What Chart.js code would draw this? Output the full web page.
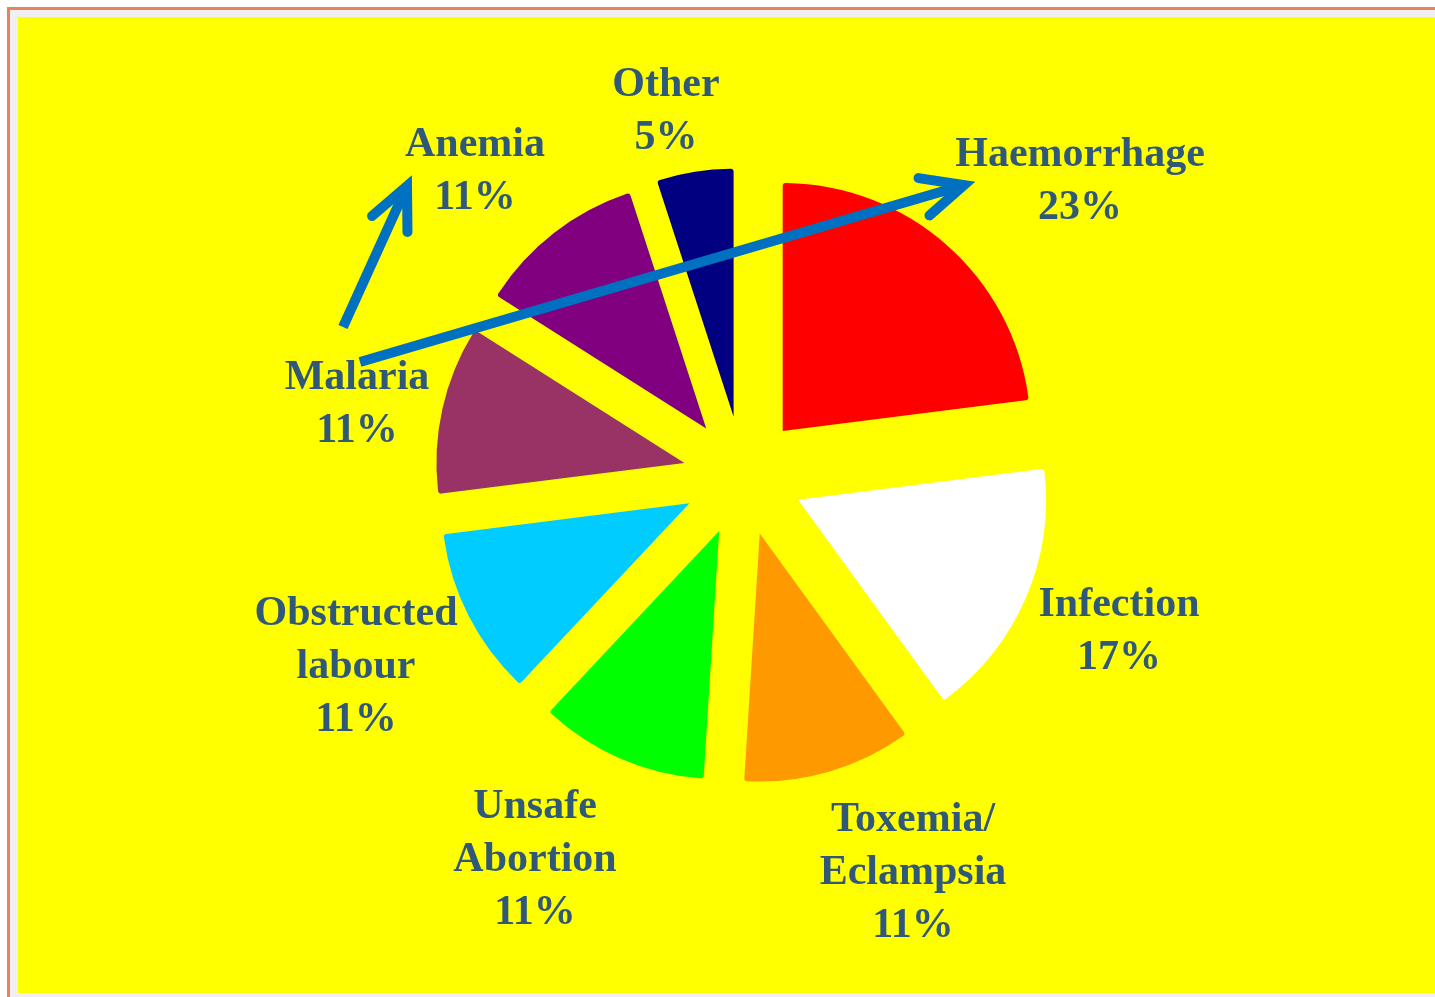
<!DOCTYPE html>
<html><head><meta charset="utf-8">
<script src="https://cdn.jsdelivr.net/npm/chart.js@4.4.1/dist/chart.umd.min.js"></script>
<style>
html,body{margin:0;padding:0;background:#fff;width:1435px;height:997px;overflow:hidden;}
#frame{position:absolute;left:7px;top:7px;width:1500px;height:1100px;border-left:3px solid #e8835a;border-top:3px solid #e8835a;background:#f0f0f0;}
#plot{position:absolute;left:18px;top:17px;width:1500px;height:976px;background:#ffff00;}
#c{position:absolute;left:0;top:0;}
</style></head><body>
<div id="frame"></div><div id="plot"></div>
<canvas id="c" width="1435" height="997"></canvas>
<script>
// ---- data ----
const categories = ["Haemorrhage", "Infection", "Toxemia/\nEclampsia", "Unsafe\nAbortion", "Obstructed\nlabour", "Malaria", "Anemia", "Other"];
const values = [23, 17, 11, 11, 11, 11, 11, 5];
const colors = ["#FF0000", "#FFFFFF", "#FF9900", "#00FF00", "#00CCFF", "#993366", "#800080", "#000080"];

// ---- layout (label anchor: x centre, first baseline) ----
const labelAnchors = [[1080, 166], [1119, 616], [913, 831], [535, 818], [356, 625], [357, 389], [475, 156], [666, 96]];
const EXPLODE = 60;
const LINE_H = 53;
const LABEL_FONT = "bold 42px 'Liberation Serif', 'Times New Roman', serif";
const LABEL_COLOR = "#305878";
const ARROW_COLOR = "#0070C0";
const arrows = [[343, 327, 407, 186], [360, 362, 964, 185]];

const explodePlugin = {
  id: 'explode',
  beforeDatasetDraw(chart, args) {
    const meta = chart.getDatasetMeta(args.index);
    const ca = chart.chartArea;
    const cx = (ca.left + ca.right) / 2 - 1, cy = (ca.top + ca.bottom) / 2;
    meta.data.forEach(arc => {
      const mid = (arc.startAngle + arc.endAngle) / 2;
      arc.x = cx + Math.cos(mid) * EXPLODE;
      arc.y = cy + Math.sin(mid) * EXPLODE;
    });
  }
};

function drawArrow(ctx, x1, y1, x2, y2) {
  const ang = Math.atan2(y1 - y2, x1 - x2);
  const arm = 46, spread = 25 * Math.PI / 180;
  ctx.save();
  ctx.strokeStyle = ARROW_COLOR;
  ctx.lineWidth = 10;
  ctx.lineCap = 'butt';
  ctx.beginPath();
  ctx.moveTo(x1, y1);
  ctx.lineTo(x2 + Math.cos(ang) * 6, y2 + Math.sin(ang) * 6);
  ctx.stroke();
  ctx.lineCap = 'round';
  ctx.lineJoin = 'miter';
  ctx.beginPath();
  ctx.moveTo(x2 + Math.cos(ang + spread) * arm, y2 + Math.sin(ang + spread) * arm);
  ctx.lineTo(x2, y2);
  ctx.lineTo(x2 + Math.cos(ang - spread) * arm, y2 + Math.sin(ang - spread) * arm);
  ctx.stroke();
  ctx.restore();
}

const annotatePlugin = {
  id: 'annotate',
  afterDatasetsDraw(chart) {
    const ctx = chart.ctx;
    arrows.forEach(a => drawArrow(ctx, a[0], a[1], a[2], a[3]));
    ctx.save();
    ctx.font = LABEL_FONT;
    ctx.fillStyle = LABEL_COLOR;
    ctx.textAlign = 'center';
    ctx.textBaseline = 'alphabetic';
    const data = chart.data.datasets[0].data;
    chart.data.labels.forEach((lab, i) => {
      const lines = lab.split("\n").concat([data[i] + "%"]);
      const [x, y] = labelAnchors[i];
      lines.forEach((t, k) => ctx.fillText(t, x, y + k * LINE_H));
    });
    ctx.restore();
  }
};

new Chart(document.getElementById('c'), {
  type: 'pie',
  data: {
    labels: categories,
    datasets: [{
      data: values,
      backgroundColor: colors,
      borderWidth: 0,
      offset: 0,
      radius: 248,
      borderRadius: {outerStart: 3, outerEnd: 3, innerStart: 0, innerEnd: 0}
    }]
  },
  options: {
    responsive: false,
    animation: false,
    events: [],
    radius: 248,
    layout: {padding: {left: 53, right: 0, top: 0, bottom: 45}},
    plugins: {legend: {display: false}, tooltip: {enabled: false}, title: {display: false}}
  },
  plugins: [explodePlugin, annotatePlugin]
});
</script>
</body></html>
